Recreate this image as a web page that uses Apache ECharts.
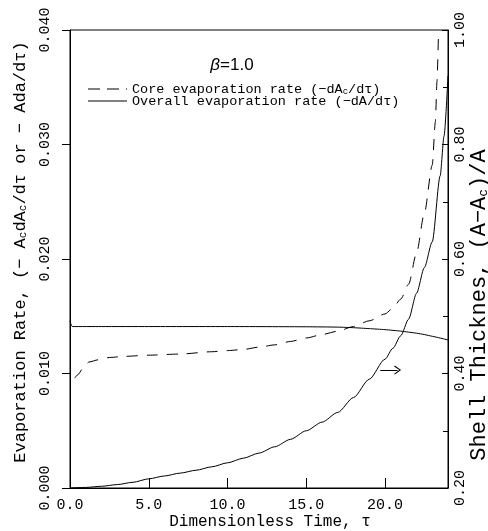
<!DOCTYPE html>
<html>
<head>
<meta charset="utf-8">
<script src="https://cdn.jsdelivr.net/npm/echarts@6/dist/echarts.min.js"></script>
<style>
html,body{margin:0;padding:0;background:#fff;}
#chart{width:488px;height:531px;}
</style>
</head>
<body>
<div id="chart"></div>
<script>
// ---- data ----
const xTicks = [0, 5, 10, 15, 20];
const leftTicks = [0.000, 0.010, 0.020, 0.030, 0.040];
const rightTicks = [0.20, 0.40, 0.60, 0.80, 1.00];

// Overall evaporation rate (-dA/dτ), left axis
const overallTau  = [0, 0.15, 2, 5, 10, 15, 17, 18, 19, 20, 21, 22, 22.5, 23, 23.5, 24];
const overallRate = [0.0146, 0.0141, 0.0141, 0.0141, 0.0141, 0.01408, 0.01405, 0.0140, 0.01392, 0.01383, 0.0137, 0.01352, 0.0134, 0.01325, 0.0131, 0.01293];

// Core evaporation rate (-dAc/dτ), left axis
const coreTau  = [0.3, 0.5, 0.8, 1.2, 1.8, 2.5, 3.5, 5, 7, 9, 10, 11, 12, 13, 14, 15, 16, 17, 18, 19, 20, 20.5, 21, 21.5, 22, 22.5, 23, 23.2, 23.3, 23.4];
const coreRate = [0.0096, 0.0099, 0.0104, 0.0110, 0.0112, 0.0114, 0.0115, 0.0116, 0.0117, 0.0119, 0.0120, 0.0121, 0.0123, 0.0125, 0.0128, 0.0131, 0.0134, 0.0137, 0.0141, 0.0146, 0.0152, 0.0157, 0.0165, 0.0178, 0.0205, 0.0240, 0.0282, 0.0320, 0.0355, 0.0400];

// Shell thickness (A-Ac)/A, right axis
const shellTau = [0, 1, 2, 3, 4, 5, 6, 7, 8, 9, 10, 11, 12, 13, 14, 15, 16, 17, 18, 19, 20, 20.5, 21, 21.5, 22, 22.5, 23, 23.5, 23.75, 24];
const shellVal = [0.200, 0.201, 0.203, 0.206, 0.210, 0.216, 0.221, 0.226, 0.231, 0.237, 0.244, 0.252, 0.261, 0.272, 0.285, 0.300, 0.315, 0.332, 0.358, 0.390, 0.425, 0.444, 0.466, 0.495, 0.540, 0.585, 0.630, 0.745, 0.815, 0.920];

// arrow pointing to the right axis
const arrowFrom = [19.7, 0.406];
const arrowTo   = [20.8, 0.406];

const mono = '"Liberation Mono", "DejaVu Sans Mono", monospace';
const zip = (a, b) => a.map((v, i) => [v, b[i]]);

const chart = echarts.init(document.getElementById('chart'), null, {renderer: 'canvas'});
chart.setOption({
  animation: false,
  backgroundColor: '#fff',
  grid: {left: 70, right: 40, top: 30, bottom: 43, show: true, borderColor: '#000', borderWidth: 1, backgroundColor: 'transparent'},
  xAxis: {
    type: 'value', min: 0, max: 24, interval: 5,
    axisLine: {lineStyle: {color: '#000', width: 1}},
    axisTick: {inside: true, length: 10, lineStyle: {color: '#000'}},
    splitLine: {show: false},
    axisLabel: {color: '#000', fontFamily: mono, fontSize: 15, margin: 10, showMaxLabel: false,
      formatter: v => xTicks.indexOf(v) >= 0 ? v.toFixed(1) : ''}
  },
  yAxis: [{
    type: 'value', position: 'left', min: 0, max: 0.04, interval: 0.01,
    axisLine: {show: true, lineStyle: {color: '#000', width: 1}},
    axisTick: {show: true, inside: false, length: 8, lineStyle: {color: '#000'}},
    splitLine: {show: false},
    axisLabel: {color: '#000', fontFamily: mono, fontSize: 15, rotate: 90, margin: 17,
      formatter: v => v.toFixed(3)}
  }, {
    type: 'value', position: 'right', min: 0.2, max: 1.0, interval: 0.2,
    axisLine: {show: true, lineStyle: {color: '#000', width: 1}},
    axisTick: {show: true, inside: true, length: 6, lineStyle: {color: '#000'}},
    minorTick: {show: true, splitNumber: 2, length: 5, lineStyle: {color: '#000'}},
    splitLine: {show: false},
    axisLabel: {color: '#000', fontFamily: mono, fontSize: 15, rotate: 90, margin: 5,
      formatter: v => v.toFixed(2)}
  }],
  series: [{
    name: 'overall', type: 'line', yAxisIndex: 0, data: zip(overallTau, overallRate),
    showSymbol: false, smooth: 0.2, lineStyle: {color: '#000', width: 1}
  }, {
    name: 'core', type: 'line', yAxisIndex: 0, data: zip(coreTau, coreRate),
    showSymbol: false, smooth: 0.25, smoothMonotone: 'x',
    lineStyle: {color: '#000', width: 1, type: [11, 9]}
  }, {
    name: 'shell', type: 'line', yAxisIndex: 1, data: zip(shellTau, shellVal),
    showSymbol: false, smooth: 0.25, smoothMonotone: 'x',
    lineStyle: {color: '#000', width: 1},
    markLine: {
      silent: true,
      symbol: ['none', 'path://M5,0 L10,9 L9,10 L5,2.5 L1,10 L0,9 Z'],
      symbolSize: [9, 7],
      label: {show: false},
      lineStyle: {color: '#000', width: 1, type: 'solid'},
      itemStyle: {color: '#000'},
      data: [[{coord: arrowFrom}, {coord: arrowTo}]]
    }
  }],
  graphic: [
    {type: 'text', x: 232, y: 65, style: {
      text: '{b|β}{t|=1.0}', align: 'center', verticalAlign: 'middle',
      rich: {
        b: {fontFamily: '"Liberation Sans", Arial, sans-serif', fontStyle: 'italic', fontSize: 17, fill: '#000'},
        t: {fontFamily: '"Liberation Sans", Arial, sans-serif', fontSize: 17, fill: '#000'}
      }}},
    {type: 'line', shape: {x1: 88, y1: 89, x2: 127, y2: 89}, style: {stroke: '#000', lineWidth: 1, lineDash: [12, 7]}},
    {type: 'line', shape: {x1: 88, y1: 101, x2: 127, y2: 101}, style: {stroke: '#000', lineWidth: 1}},
    {type: 'text', x: 132, y: 89, style: {
      text: '{t|Core evaporation rate (−dA}{s|c}{t|/dτ)}',
      fill: '#000', align: 'left', verticalAlign: 'middle',
      rich: {t: {fontFamily: mono, fontSize: 13.5, fill: '#000'}, s: {fontFamily: mono, fontSize: 9, fill: '#000', verticalAlign: 'bottom'}}}},
    {type: 'text', x: 132, y: 101, style: {
      text: 'Overall evaporation rate (−dA/dτ)',
      font: '13.5px ' + mono, fill: '#000', align: 'left', verticalAlign: 'middle'}},
    {type: 'text', x: 270, y: 522, style: {
      text: 'Dimensionless Time, τ', font: '16px ' + mono, fill: '#000', align: 'center', verticalAlign: 'middle'}},
    {type: 'text', x: 20, y: 252, rotation: Math.PI / 2, style: {
      text: '{t|Evaporation Rate, (− A}{s|c}{t|dA}{s|c}{t|/dτ or − Ada/dτ)}',
      fill: '#000', align: 'center', verticalAlign: 'middle',
      rich: {t: {fontFamily: mono, fontSize: 17, fill: '#000'}, s: {fontFamily: mono, fontSize: 11, fill: '#000', verticalAlign: 'bottom'}}}},
    {type: 'text', x: 479, y: 305, rotation: Math.PI / 2, style: {
      text: '{t|Shell Thicknes, (A−A}{s|c}{t|)/A}',
      fill: '#000', align: 'center', verticalAlign: 'middle',
      rich: {t: {fontFamily: mono, fontSize: 22, fill: '#000'}, s: {fontFamily: mono, fontSize: 13, fill: '#000', verticalAlign: 'bottom'}}}}
  ]
});
</script>
</body>
</html>
